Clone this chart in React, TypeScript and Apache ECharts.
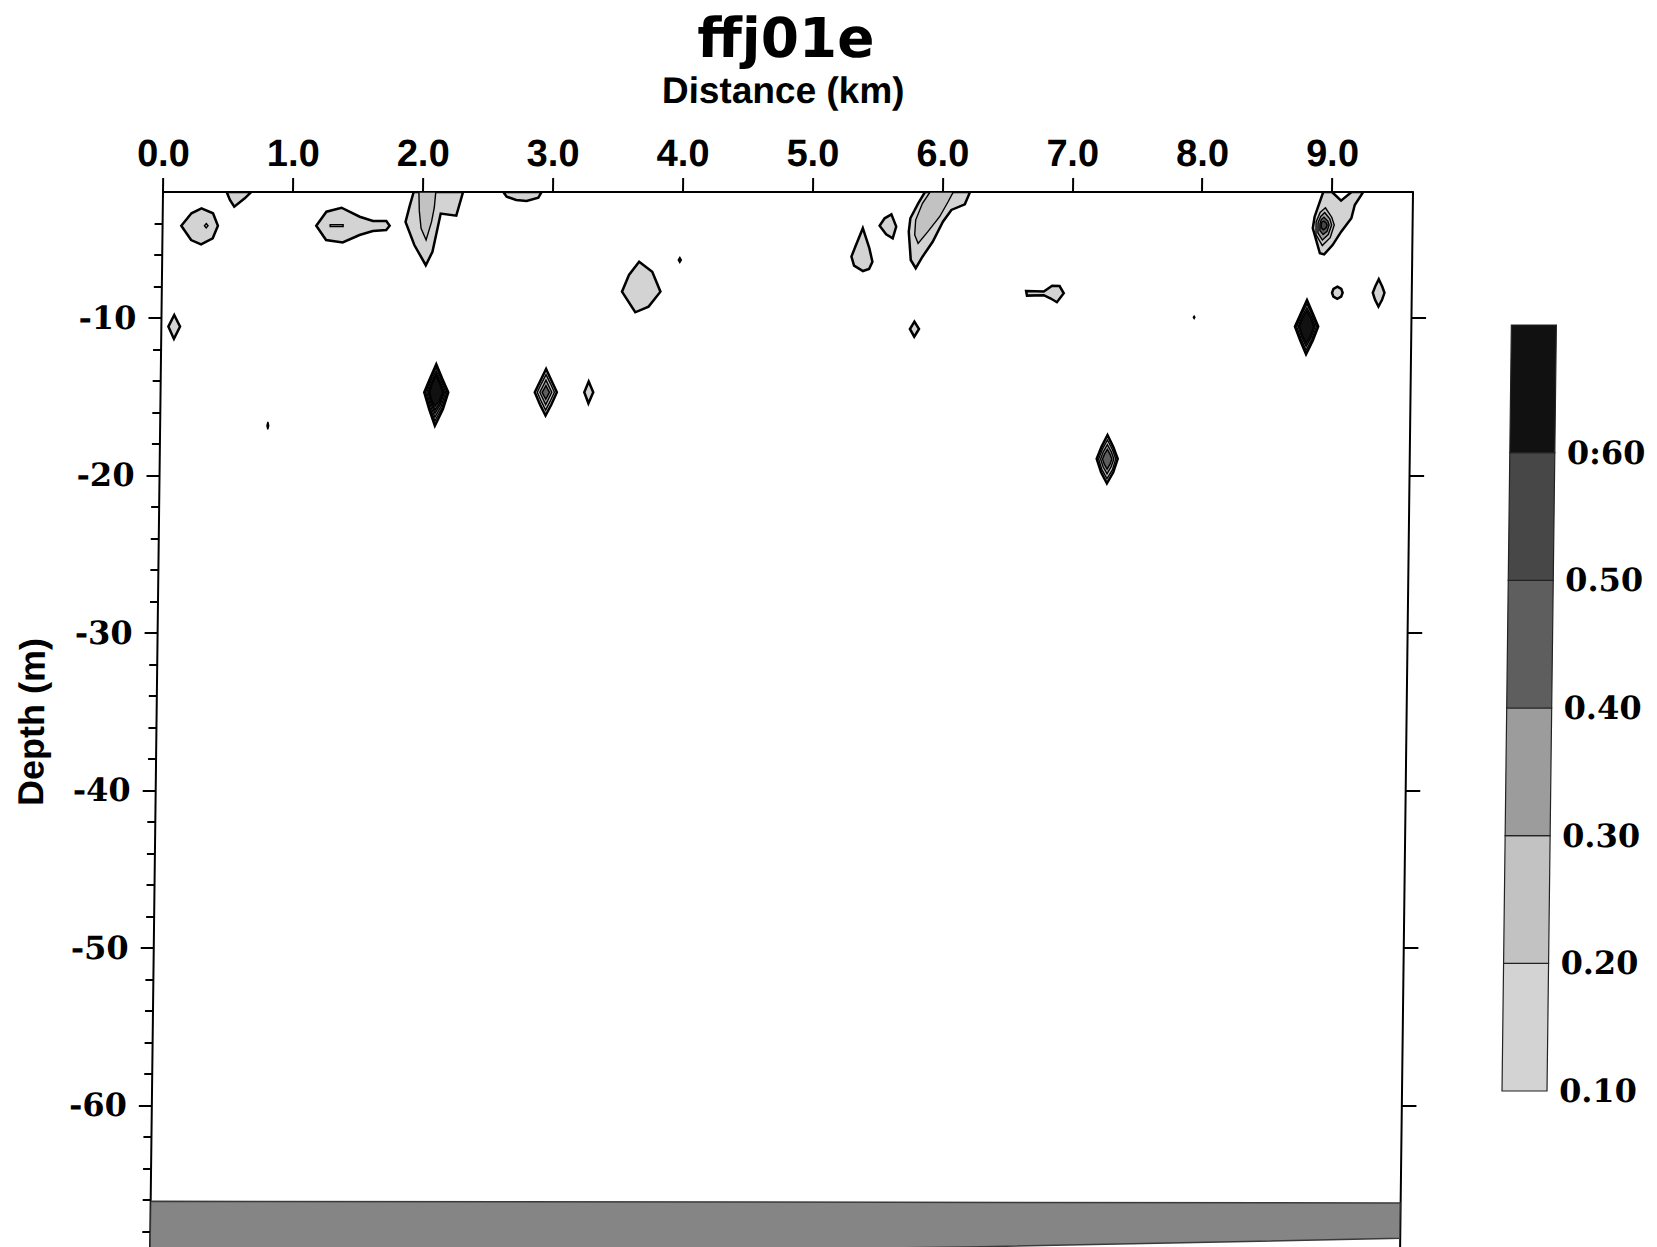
import React, { useEffect, useRef } from 'react';
import * as echarts from 'echarts';

// ---- axes ----
const xTicks = [0, 1, 2, 3, 4, 5, 6, 7, 8, 9];
const xTickLabels = ['0.0', '1.0', '2.0', '3.0', '4.0', '5.0', '6.0', '7.0', '8.0', '9.0'];
const yMajorTicks = [-60, -50, -40, -30, -20, -10];
const yTickLabels = ['-60', '-50', '-40', '-30', '-20', '-10'];
const yMinorTicks = [-68, -66, -64, -62, -58, -56, -54, -52, -48, -46, -44, -42, -38, -36, -34, -32, -28, -26, -24, -22, -18, -16, -14, -12, -8, -6, -4];

// ---- colour scale ----
const contourLevels = [0.1, 0.2, 0.3, 0.4, 0.5, 0.6];
const levelColors = ['#d3d3d3', '#c2c2c2', '#9c9c9c', '#5e5e5e', '#474747', '#111111'];
const colorbarBounds = [0.1, 0.2, 0.3, 0.4, 0.5, 0.6, 0.7];
const colorbarLabels = ['0.10', '0.20', '0.30', '0.40', '0.50', '0:60'];

// ---- contour polygons [distance km, depth m] ----
const blob03 = [[0.298, -3.04], [0.387, -3.35], [0.426, -4.14], [0.387, -4.94], [0.298, -5.32], [0.221, -5.05], [0.144, -4.14], [0.221, -3.35]];
const blob03Core = [[0.336, -4.0], [0.35, -4.14], [0.336, -4.28], [0.322, -4.14]];
const blobTop05 = [[0.49, -2], [0.68, -2], [0.63, -2.4], [0.55, -2.93], [0.516, -2.5]];
const blob14 = [[1.183, -4.14], [1.26, -3.25], [1.376, -3.0], [1.517, -3.57], [1.619, -3.84], [1.722, -3.84], [1.748, -4.14], [1.722, -4.41], [1.619, -4.48], [1.517, -4.73], [1.388, -5.2], [1.26, -5.05]];
const blob14Core = [[1.29, -4.08], [1.39, -4.08], [1.39, -4.2], [1.29, -4.2]];
const blob20Outer = [[1.93, -2], [1.9, -2.9], [1.87, -3.9], [1.94, -5.37], [2.03, -6.65], [2.08, -5.8], [2.14, -3.37], [2.26, -3.5], [2.31, -2]];
const blob20Inner = [[1.97, -2], [2.1, -2], [2.09, -3.0], [2.07, -3.9], [2.03, -5.05], [1.99, -4.3], [1.975, -3.2]];
const blobTop28 = [[2.62, -2], [2.646, -2.3], [2.72, -2.51], [2.8, -2.57], [2.89, -2.36], [2.915, -2]];
const blob37 = [[3.672, -6.43], [3.774, -7.06], [3.839, -8.33], [3.749, -9.28], [3.647, -9.64], [3.543, -8.33], [3.595, -7.27]];
const blob01 = [[0.098, -9.81], [0.144, -10.55], [0.098, -11.33], [0.054, -10.55]];
const blob21a = [[2.12, -12.94], [2.17, -13.9], [2.215, -14.72], [2.175, -15.8], [2.115, -16.84], [2.07, -15.8], [2.03, -14.72], [2.07, -13.9]];
const blob21b = [[2.12, -13.15], [2.165, -13.95], [2.205, -14.72], [2.168, -15.7], [2.115, -16.55], [2.075, -15.7], [2.04, -14.72], [2.075, -13.95]];
const blob21c = [[2.12, -13.35], [2.16, -14.0], [2.195, -14.72], [2.162, -15.6], [2.115, -16.3], [2.08, -15.6], [2.05, -14.72], [2.08, -14.0]];
const blob21d = [[2.12, -13.5], [2.155, -14.1], [2.185, -14.72], [2.155, -15.5], [2.115, -16.05], [2.085, -15.5], [2.06, -14.72], [2.085, -14.1]];
const blob21e = [[2.12, -13.6], [2.15, -14.15], [2.178, -14.72], [2.15, -15.4], [2.115, -15.85], [2.09, -15.4], [2.066, -14.72], [2.09, -14.15]];
const blob21f = [[2.12, -13.65], [2.148, -14.17], [2.172, -14.72], [2.145, -15.3], [2.115, -15.6], [2.092, -15.3], [2.072, -14.72], [2.092, -14.17]];
const blob30a = [[2.966, -13.24], [3.01, -14.0], [3.051, -14.72], [3.01, -15.5], [2.966, -16.2], [2.922, -15.5], [2.881, -14.72], [2.922, -14.0]];
const blob30b = [[2.966, -13.6], [3.0, -14.15], [3.032, -14.72], [3.0, -15.3], [2.966, -15.85], [2.932, -15.3], [2.9, -14.72], [2.932, -14.15]];
const blob30c = [[2.966, -13.95], [2.99, -14.35], [3.012, -14.72], [2.99, -15.1], [2.966, -15.5], [2.942, -15.1], [2.92, -14.72], [2.942, -14.35]];
const blob30d = [[2.966, -14.3], [2.98, -14.52], [2.994, -14.72], [2.98, -14.95], [2.966, -15.15], [2.952, -14.95], [2.938, -14.72], [2.952, -14.52]];
const blob33 = [[3.295, -14.04], [3.331, -14.72], [3.295, -15.42], [3.262, -14.72]];
const dot08 = [[0.829, -16.6], [0.836, -16.84], [0.829, -17.08], [0.822, -16.84]];
const dot40 = [[3.985, -6.15], [3.997, -6.32], [3.985, -6.49], [3.973, -6.32]];
const dot79 = [[7.95, -9.88], [7.956, -9.96], [7.95, -10.04], [7.944, -9.96]];
const blob54 = [[5.391, -4.3], [5.443, -5.57], [5.468, -6.43], [5.443, -6.89], [5.396, -7.02], [5.327, -6.68], [5.306, -6.1], [5.34, -5.37]];
const blob56 = [[5.61, -3.42], [5.648, -4.2], [5.622, -4.94], [5.571, -4.69], [5.52, -4.14], [5.558, -3.67]];
const blob59Outer = [[5.866, -2], [5.815, -2.72], [5.756, -3.67], [5.745, -4.52], [5.763, -6.32], [5.802, -6.84], [5.853, -6.11], [5.93, -5.16], [6.007, -3.89], [6.071, -3.14], [6.174, -2.78], [6.213, -2]];
const blob59Inner = [[5.905, -2], [5.848, -2.72], [5.797, -3.78], [5.791, -4.73], [5.818, -5.26], [5.892, -4.52], [5.981, -3.57], [6.045, -2.62], [6.084, -2]];
const blob58 = [[5.797, -10.23], [5.833, -10.7], [5.797, -11.19], [5.763, -10.7]];
const blob68 = [[6.654, -8.29], [6.79, -8.32], [6.854, -7.95], [6.911, -7.97], [6.944, -8.43], [6.892, -9.0], [6.841, -8.75], [6.79, -8.55], [6.661, -8.58]];
const blob73a = [[7.294, -17.43], [7.34, -18.2], [7.375, -18.95], [7.342, -19.8], [7.294, -20.5], [7.248, -19.8], [7.213, -18.95], [7.248, -18.2]];
const blob73b = [[7.294, -17.75], [7.333, -18.35], [7.36, -18.95], [7.335, -19.65], [7.294, -20.2], [7.255, -19.65], [7.228, -18.95], [7.255, -18.35]];
const blob73c = [[7.294, -18.05], [7.325, -18.5], [7.345, -18.95], [7.325, -19.45], [7.294, -19.9], [7.263, -19.45], [7.243, -18.95], [7.263, -18.5]];
const blob73d = [[7.294, -18.35], [7.315, -18.65], [7.33, -18.95], [7.315, -19.3], [7.294, -19.6], [7.273, -19.3], [7.258, -18.95], [7.273, -18.65]];
const blob88a = [[8.817, -8.86], [8.862, -9.7], [8.906, -10.55], [8.865, -11.45], [8.815, -12.3], [8.77, -11.45], [8.727, -10.55], [8.772, -9.7]];
const blob88b = [[8.817, -9.1], [8.857, -9.8], [8.893, -10.55], [8.858, -11.35], [8.815, -12.05], [8.776, -11.35], [8.74, -10.55], [8.777, -9.8]];
const blob88c = [[8.817, -9.35], [8.852, -9.9], [8.882, -10.55], [8.852, -11.25], [8.815, -11.8], [8.782, -11.25], [8.752, -10.55], [8.782, -9.9]];
const blob88d = [[8.817, -9.55], [8.847, -10.0], [8.872, -10.55], [8.847, -11.15], [8.815, -11.6], [8.787, -11.15], [8.762, -10.55], [8.787, -10.0]];
const blob90Outer = [[8.932, -2], [8.868, -3.57], [8.855, -4.3], [8.912, -5.89], [8.945, -5.96], [9.009, -5.37], [9.074, -4.52], [9.151, -3.67], [9.176, -2.83], [9.24, -2], [9.15, -2], [9.07, -2.55], [9.0, -2]];
const blob90b = [[8.95, -3.0], [9.0, -3.6], [9.02, -4.1], [8.99, -4.9], [8.93, -5.4], [8.88, -4.7], [8.88, -3.9], [8.91, -3.3]];
const blob90c = [[8.945, -3.3], [8.985, -3.7], [9.0, -4.1], [8.975, -4.7], [8.93, -5.05], [8.895, -4.6], [8.895, -3.95], [8.915, -3.55]];
const blob90d = [[8.94, -3.6], [8.97, -3.85], [8.98, -4.1], [8.965, -4.5], [8.935, -4.7], [8.91, -4.45], [8.91, -4.0], [8.92, -3.75]];
const blob90e = [[8.94, -3.85], [8.955, -3.95], [8.965, -4.1], [8.955, -4.3], [8.935, -4.4], [8.92, -4.25], [8.92, -4.05], [8.925, -3.9]];
const blob905 = [[9.05, -8.01], [9.08, -8.15], [9.091, -8.4], [9.08, -8.65], [9.05, -8.79], [9.02, -8.65], [9.009, -8.4], [9.02, -8.15]];
const blob937 = [[9.368, -7.54], [9.395, -8.0], [9.413, -8.4], [9.395, -8.85], [9.368, -9.28], [9.341, -8.85], [9.323, -8.4], [9.341, -8.0]];

// ---- sea floor ----
const seabedTop = [[0, -66.1], [9.62, -66.2]];
const seabedBottom = [[9.62, -68.45], [6.3, -69.0], [0, -69.6]];

// contour list: [polygon, level] drawn in this order
const contours: [number[][], number][] = [
  [blob03, 0.1], [blob03Core, 0.2], [blobTop05, 0.1], [blob14, 0.1], [blob14Core, 0.2],
  [blob20Outer, 0.1], [blob20Inner, 0.2], [blobTop28, 0.1], [blob37, 0.1], [blob01, 0.1],
  [blob21a, 0.1], [blob21b, 0.2], [blob21c, 0.3], [blob21d, 0.4], [blob21e, 0.5], [blob21f, 0.6],
  [blob30a, 0.1], [blob30b, 0.2], [blob30c, 0.3], [blob30d, 0.4], [blob33, 0.1],
  [dot08, 0.6], [dot40, 0.6], [dot79, 0.6],
  [blob54, 0.1], [blob56, 0.1], [blob59Outer, 0.1], [blob59Inner, 0.2], [blob58, 0.1], [blob68, 0.1],
  [blob73a, 0.1], [blob73b, 0.2], [blob73c, 0.3], [blob73d, 0.4],
  [blob88a, 0.1], [blob88b, 0.3], [blob88c, 0.5], [blob88d, 0.6],
  [blob90Outer, 0.1], [blob90b, 0.2], [blob90c, 0.3], [blob90d, 0.4], [blob90e, 0.5],
  [blob905, 0.1], [blob937, 0.1],
];

const SANS = "'Liberation Sans', Arial, sans-serif";
const SERIF = "'DejaVu Serif', serif";
const TITLE = "'DejaVu Sans', sans-serif";

function colorOf(level: number) {
  const i = contourLevels.findIndex((l) => Math.abs(l - level) < 1e-6);
  return levelColors[i < 0 ? 0 : i];
}
function labelOf(values: number[], labels: string[], v: number) {
  const i = values.findIndex((t) => Math.abs(t - v) < 1e-6);
  return i < 0 ? '' : labels[i];
}

export default function App() {
  const ref = useRef<HTMLDivElement>(null);
  useEffect(() => {
    const chart = echarts.init(ref.current!, null, { renderer: 'svg' });
    const option: any = {
      animation: false,
      backgroundColor: '#ffffff',
      grid: [
        { left: 163, top: 192, width: 1249.6, height: 1055 },
        { left: 1513, top: 325, width: 45, height: 766 },
      ],
      xAxis: [
        {
          type: 'value', gridIndex: 0, position: 'top', min: 0, max: 9.62,
          axisLine: { show: true, lineStyle: { color: '#000', width: 2 } },
          axisTick: { show: true, customValues: xTicks, length: 14, lineStyle: { color: '#000', width: 2 } },
          axisLabel: {
            customValues: xTicks, margin: 20, color: '#000', fontFamily: SANS, fontWeight: 'bold', fontSize: 38,
            formatter: (v: number) => labelOf(xTicks, xTickLabels, v),
          },
          splitLine: { show: false },
        },
        { type: 'value', gridIndex: 1, min: 0, max: 1, show: false },
      ],
      yAxis: [
        {
          type: 'value', gridIndex: 0, position: 'left', min: -69, max: -2,
          axisLine: { show: true, lineStyle: { color: '#000', width: 2 } },
          axisTick: { show: true, customValues: yMajorTicks, length: 13, lineStyle: { color: '#000', width: 2 } },
          axisLabel: {
            customValues: yMajorTicks, margin: 25, color: '#000', fontFamily: SERIF, fontWeight: 'bold', fontSize: 32,
            formatter: (v: number) => labelOf(yMajorTicks, yTickLabels, v),
          },
          splitLine: { show: false },
        },
        {
          type: 'value', gridIndex: 0, position: 'left', min: -69, max: -2,
          axisLine: { show: false },
          axisTick: { show: true, customValues: yMinorTicks, length: 8, lineStyle: { color: '#000', width: 2 } },
          axisLabel: { show: false },
          splitLine: { show: false },
        },
        {
          type: 'value', gridIndex: 0, position: 'right', min: -69, max: -2,
          axisLine: { show: true, lineStyle: { color: '#000', width: 2 } },
          axisTick: { show: true, customValues: yMajorTicks, length: 15, lineStyle: { color: '#000', width: 2 } },
          axisLabel: { show: false },
          splitLine: { show: false },
        },
        {
          type: 'value', gridIndex: 1, position: 'right', min: 0.1, max: 0.7,
          axisLine: { show: false },
          axisTick: { show: false },
          axisLabel: {
            customValues: colorbarBounds.slice(0, 6), margin: 12, color: '#000', fontFamily: SERIF, fontWeight: 'bold', fontSize: 32,
            formatter: (v: number) => labelOf(colorbarBounds, colorbarLabels, v),
          },
          splitLine: { show: false },
        },
      ],
      graphic: [
        {
          type: 'text', x: 784, y: 38, silent: true,
          style: { text: 'ffj01e', fill: '#000', fontFamily: TITLE, fontWeight: 'bold', fontSize: 55, align: 'center', verticalAlign: 'middle', textAlign: 'center', textVerticalAlign: 'middle' },
        },
        {
          type: 'text', x: 782, y: 91, silent: true,
          style: { text: 'Distance (km)', fill: '#000', fontFamily: SANS, fontWeight: 'bold', fontSize: 37, align: 'center', verticalAlign: 'middle', textAlign: 'center', textVerticalAlign: 'middle' },
        },
        {
          type: 'text', x: 38, y: 722, rotation: Math.PI / 2, silent: true,
          style: { text: 'Depth (m)', fill: '#000', fontFamily: SANS, fontWeight: 'bold', fontSize: 36, align: 'center', verticalAlign: 'middle', textAlign: 'center', textVerticalAlign: 'middle' },
        },
      ],
      series: [
        {
          type: 'custom', name: 'seabed', xAxisIndex: 0, yAxisIndex: 0, clip: true, silent: true,
          data: [[0, -66.1]],
          renderItem: (params: any, api: any) => {
            const pts = seabedTop.concat(seabedBottom).map((p) => api.coord(p));
            return { type: 'polygon', shape: { points: pts }, style: { fill: '#858585', stroke: '#3a3a3a', lineWidth: 1.5 } };
          },
        },
        {
          type: 'custom', name: 'contours', xAxisIndex: 0, yAxisIndex: 0, clip: true, silent: true,
          data: contours.map((c, i) => [c[0][0][0], c[0][0][1], i]),
          renderItem: (params: any, api: any) => {
            const c = contours[params.dataIndex];
            const pts = c[0].map((p) => api.coord(p));
            const outer = c[1] < 0.15;
            return {
              type: 'polygon', shape: { points: pts },
              style: { fill: colorOf(c[1]), stroke: '#000', lineWidth: outer ? 2.5 : 1.4 },
            };
          },
        },
        {
          type: 'custom', name: 'colorbar', xAxisIndex: 1, yAxisIndex: 3, silent: true,
          data: contourLevels.map((l, i) => [0, l, i]),
          renderItem: (params: any, api: any) => {
            const i = params.dataIndex;
            const p0 = api.coord([0, colorbarBounds[i + 1]]);
            const p1 = api.coord([1, colorbarBounds[i]]);
            return {
              type: 'rect',
              shape: { x: p0[0], y: p0[1], width: p1[0] - p0[0], height: p1[1] - p0[1] },
              style: { fill: levelColors[i], stroke: '#222', lineWidth: 1.2 },
            };
          },
        },
      ],
    };
    chart.setOption(option);
    return () => chart.dispose();
  }, []);
  return (
    <div style={{ position: 'absolute', left: 0, top: 0, width: 1657, height: 1247, overflow: 'hidden', background: '#fff' }}>
      <div ref={ref} style={{ width: 1657, height: 1247, transform: 'skewX(-0.7deg)', transformOrigin: '0px 192px' }} />
    </div>
  );
}
